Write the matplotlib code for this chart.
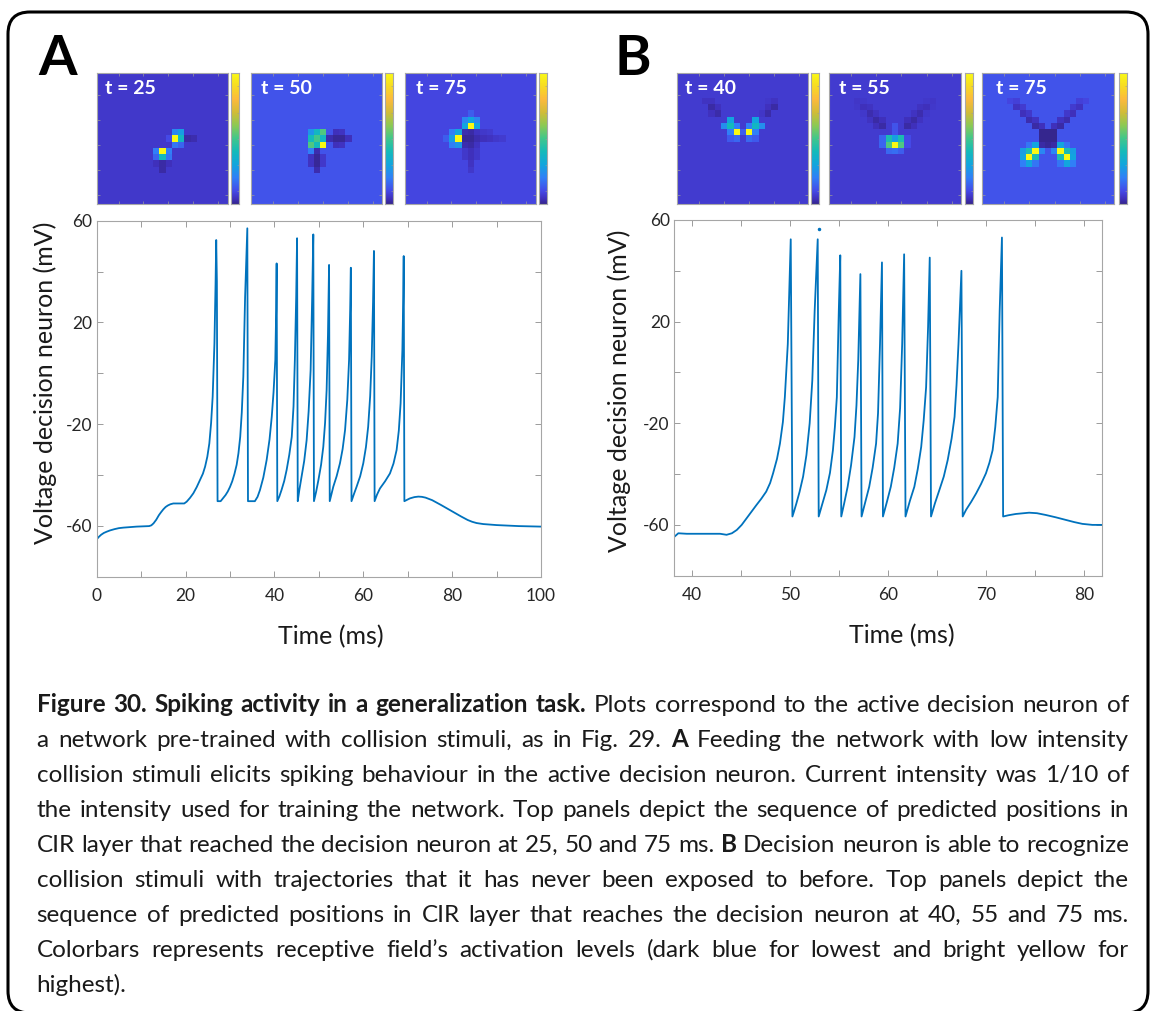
import matplotlib
matplotlib.use('Agg')
import matplotlib.pyplot as plt
import numpy as np
from matplotlib.colors import LinearSegmentedColormap
from matplotlib.patches import FancyBboxPatch
from matplotlib.transforms import IdentityTransform

plt.rcParams['font.family'] = ['Lato', 'DejaVu Sans']
plt.rcParams['axes.unicode_minus'] = False

# ---- data: voltage traces (ms, mV) ----
time_a = [0, 0.5, 1, 1.6, 2.25, 3, 4, 5, 6, 7.5, 9, 11.8, 12.3, 12.8, 13.4, 14, 14.5, 15, 15.5, 16, 16.6,
          17.25, 19.7, 20.25, 21, 21.75, 22.5, 23.25, 23.9, 24.4, 24.9, 25.35, 25.75, 26.1, 26.5, 26.75,
          26.9, 27.05, 27.2,
          27.9, 28.5, 29.0, 29.5, 30.0, 30.5, 31.0, 31.5, 31.9, 32.3, 32.65, 33.0, 33.4, 33.9, 34.05,
          35.6, 36.2, 36.75, 37.5, 38.25, 38.9, 39.4, 39.8, 40.2, 40.4, 40.5, 40.65,
          41.1, 41.6, 42.2, 42.75, 43.35, 43.9, 44.3, 44.6, 44.9, 45.1, 45.25,
          45.6, 46.1, 46.7, 47.25, 47.7, 48.15, 48.5, 48.75, 48.9,
          49.4, 49.9, 50.5, 51.0, 51.4, 51.75, 52.05, 52.3, 52.45,
          52.85, 53.25, 54.0, 54.75, 55.35, 55.9, 56.4, 56.8, 57.05, 57.2, 57.35,
          57.9, 58.5, 59.3, 60.0, 60.6, 61.1, 61.55, 61.9, 62.2, 62.4, 62.55,
          63.1, 63.75, 64.9, 66.0, 66.8, 67.5, 68.0, 68.4, 68.8, 69.0, 69.1, 69.25,
          69.8, 70.5, 71.5, 72.4, 73.2, 74.0, 75.5, 77.5, 79.5, 82.0, 83.5, 84.5, 85.5, 87.0, 90.0,
          95.0, 100.0]
volt_a = [-65.3, -64.3, -63.5, -62.8, -62.3, -61.8, -61.3, -60.9, -60.7, -60.5, -60.3, -60.1, -59.8, -59.0,
          -57.6, -55.8, -54.6, -53.5, -52.6, -52.0, -51.5,
          -51.2, -51.2, -50.5, -49.0, -47.2, -44.8, -42.0, -39.5, -36.7, -32.8, -27.6, -19.5, -9.2, 11.8, 35.0,
          52.4, 36.0, -50.3,
          -50.3, -49.0, -47.9, -46.5, -44.7, -42.5, -39.6, -36.0, -31.5, -25.0, -15.5, -1.3, 30.0, 57.0, -50.3,
          -50.3, -48.6, -45.9, -41.0, -34.1, -26.0, -17.1, -7.5, 5.2, 25.0, 43.2, -50.3,
          -48.5, -45.9, -42.4, -38.0, -32.0, -25.0, -13.0, 5.2, 30.0, 53.1, -50.3,
          -46.0, -40.7, -34.5, -26.3, -15.0, 1.3, 30.0, 54.6, -50.3,
          -46.5, -42.0, -36.0, -28.9, -19.5, -6.6, 15.0, 42.6, -50.3,
          -47.5, -44.6, -40.5, -35.4, -29.8, -22.3, -10.5, 5.2, 25.0, 41.5, -50.3,
          -47.5, -44.6, -40.5, -35.4, -29.0, -21.0, -9.0, 6.5, 28.0, 48.1, -50.3,
          -47.7, -45.3, -42.5, -39.4, -35.5, -30.2, -22.5, -11.8, 9.1, 30.0, 46.1, -50.3,
          -49.8, -49.2, -48.7, -48.5, -48.6, -48.9, -49.9, -51.8, -53.8, -56.3, -57.7, -58.4, -58.9, -59.3, -59.7,
          -60.1, -60.3]

time_b = [38.2, 38.64, 39.5, 42.9, 43.56, 44.1, 44.6, 45.1, 45.6, 46.1, 46.6, 47.1, 47.6, 48.0, 48.3, 48.7,
          49.0, 49.3, 49.5, 49.8, 50.1, 50.27,
          50.45, 50.68, 51.0, 51.36, 51.7, 52.03, 52.3, 52.54, 52.85, 52.95,
          53.3, 53.73, 54.1, 54.4, 54.6, 54.8, 55.0, 55.15, 55.25,
          55.55, 55.9, 56.25, 56.6, 56.8, 56.98, 57.2, 57.32,
          57.7, 58.1, 58.45, 58.8, 59.0, 59.2, 59.4, 59.5,
          59.9, 60.3, 60.65, 61.0, 61.25, 61.46, 61.66, 61.8,
          62.25, 62.7, 63.05, 63.4, 63.65, 63.9, 64.1, 64.27, 64.4,
          64.8, 65.25, 65.7, 66.1, 66.5, 66.8, 67.0, 67.2, 67.5, 67.63,
          67.97, 68.5, 69.0, 69.5, 70.0, 70.35, 70.68, 70.95, 71.2, 71.4, 71.63, 71.75,
          72.3, 73.05, 74.4, 75.2, 76.1, 77.1, 78.1, 79.0, 79.83, 80.85, 81.8]
volt_b = [-64.8, -63.3, -63.5, -63.5, -63.9, -63.3, -62.0, -60.0, -57.4, -54.8, -52.2, -49.7, -46.9, -43.5,
          -39.7, -34.0, -28.0, -19.5, -9.7, 11.2, 52.4, -56.7,
          -54.5, -51.5, -47.0, -41.0, -32.5, -20.0, -3.0, 24.3, 52.4, -56.7,
          -52.0, -46.3, -39.5, -30.6, -21.5, -9.7, 24.3, 46.1, -56.7,
          -51.5, -45.0, -36.5, -25.4, -13.0, 4.7, 38.7, -56.7,
          -51.0, -45.0, -37.5, -28.0, -16.0, 11.2, 43.3, -56.7,
          -51.0, -45.0, -37.5, -28.0, -14.0, 11.2, 46.5, -56.7,
          -50.5, -45.0, -38.0, -29.3, -19.0, -5.8, 17.8, 45.2, -56.7,
          -51.5, -46.3, -41.0, -34.5, -26.0, -17.5, -5.0, 11.2, 40.0, -56.7,
          -54.1, -50.9, -47.6, -43.9, -39.7, -35.6, -30.6, -21.5, -9.7, 24.3, 53.1, -56.7,
          -56.2, -55.7, -55.2, -55.4, -56.1, -57.0, -58.0, -58.9, -59.6, -60.0, -60.0]
stray_b = (52.95, 56.3)

# ---- data: receptive field snapshots, 21x21 grid, (row, col, level) ----
grid_n = 21
titles_a = ['t = 25', 't = 50', 't = 75']
titles_b = ['t = 40', 't = 55', 't = 75']
bg_a = [0.06, 0.12, 0.09]
bg_b = [0.07, 0.07, 0.12]

cells_a1 = [(9, 12, 0.22), (9, 13, 0.28),
            (10, 11, 0.10), (10, 12, 1.0), (10, 13, 0.38), (10, 14, 0.02), (10, 15, 0.03),
            (11, 12, 0.18), (11, 13, 0.15),
            (12, 9, 0.20), (12, 10, 1.0), (12, 11, 0.20),
            (13, 9, 0.15), (13, 10, 0.40), (13, 11, 0.18),
            (14, 9, 0.04), (14, 10, 0.02), (14, 11, 0.04),
            (15, 10, 0.02)]
cells_a2 = [(9, 9, 0.25), (9, 10, 0.38), (9, 11, 0.52), (9, 13, 0.04), (9, 14, 0.05),
            (10, 9, 0.40), (10, 10, 0.50), (10, 11, 0.38), (10, 12, 0.03), (10, 13, 0.01), (10, 14, 0.01), (10, 15, 0.04),
            (11, 9, 0.52), (11, 10, 0.40), (11, 11, 1.0), (11, 13, 0.04), (11, 14, 0.05),
            (12, 9, 0.20), (12, 10, 0.03),
            (13, 9, 0.05), (13, 10, 0.01), (13, 11, 0.06),
            (14, 9, 0.05), (14, 10, 0.01), (14, 11, 0.06),
            (15, 10, 0.03)]
cells_a3 = [(6, 10, 0.14),
            (7, 9, 0.22), (7, 10, 0.30), (7, 11, 0.22),
            (8, 9, 0.30), (8, 10, 1.0), (8, 11, 0.30),
            (9, 7, 0.20), (9, 8, 0.30), (9, 9, 0.03), (9, 10, 0.02), (9, 11, 0.05), (9, 12, 0.06), (9, 13, 0.07),
            (10, 6, 0.14), (10, 7, 0.28), (10, 8, 1.0), (10, 9, 0.01), (10, 10, 0.01), (10, 11, 0.03),
            (10, 12, 0.04), (10, 13, 0.05), (10, 14, 0.06), (10, 15, 0.07),
            (11, 7, 0.20), (11, 8, 0.26), (11, 9, 0.03), (11, 10, 0.02), (11, 11, 0.05),
            (12, 9, 0.06), (12, 10, 0.04), (12, 11, 0.06),
            (13, 9, 0.06), (13, 10, 0.04), (13, 11, 0.06),
            (14, 10, 0.05), (15, 10, 0.06)]
cells_b1 = [(4, 4, 0.05), (4, 5, 0.05), (5, 5, 0.02), (5, 6, 0.045), (6, 5, 0.045), (6, 6, 0.025),
            (4, 15, 0.05), (4, 14, 0.06), (5, 15, 0.02), (5, 14, 0.045), (6, 14, 0.025), (6, 13, 0.055),
            (7, 8, 0.30), (7, 12, 0.30),
            (8, 7, 0.24), (8, 8, 0.40), (8, 9, 0.20), (8, 11, 0.20), (8, 12, 0.38), (8, 13, 0.24),
            (9, 8, 0.20), (9, 9, 1.0), (9, 10, 0.14), (9, 11, 1.0), (9, 12, 0.20),
            (10, 8, 0.13), (10, 9, 0.16), (10, 11, 0.16), (10, 12, 0.13)]
cells_b2 = [(4, 4, 0.055), (4, 5, 0.06), (5, 4, 0.06), (5, 5, 0.04), (5, 6, 0.05), (6, 5, 0.06), (6, 6, 0.03),
            (6, 7, 0.05), (7, 6, 0.05), (7, 7, 0.02), (7, 8, 0.04), (8, 7, 0.04), (8, 8, 0.02),
            (4, 16, 0.055), (4, 15, 0.06), (5, 16, 0.06), (5, 15, 0.04), (5, 14, 0.05), (6, 15, 0.06), (6, 14, 0.03),
            (6, 13, 0.05), (7, 14, 0.05), (7, 13, 0.02), (7, 12, 0.04), (8, 13, 0.04), (8, 12, 0.02),
            (8, 10, 0.12), (9, 10, 0.12),
            (10, 8, 0.15), (10, 9, 0.42), (10, 10, 0.28), (10, 11, 0.42), (10, 12, 0.10),
            (11, 8, 0.15), (11, 9, 0.52), (11, 10, 1.0), (11, 11, 0.52), (11, 12, 0.10),
            (12, 9, 0.16), (12, 10, 0.17), (12, 11, 0.14)]
cells_b3 = [(4, 4, 0.09), (4, 5, 0.08), (5, 5, 0.05), (5, 6, 0.07), (6, 6, 0.04), (6, 7, 0.06),
            (7, 7, 0.03), (7, 8, 0.05), (8, 8, 0.02), (8, 9, 0.04),
            (4, 16, 0.09), (4, 15, 0.08), (5, 15, 0.05), (5, 14, 0.07), (6, 14, 0.04), (6, 13, 0.06),
            (7, 13, 0.03), (7, 12, 0.05), (8, 12, 0.02), (8, 11, 0.04),
            (9, 9, 0.0), (9, 10, 0.0), (9, 11, 0.0), (10, 9, 0.0), (10, 10, 0.0), (10, 11, 0.0),
            (11, 9, 0.02), (11, 10, 0.01), (11, 11, 0.02),
            (11, 8, 0.30), (11, 7, 0.18), (12, 6, 0.28), (12, 7, 0.42), (12, 8, 1.0), (12, 9, 0.22),
            (13, 6, 0.30), (13, 7, 1.0), (13, 8, 0.42), (14, 6, 0.20), (14, 7, 0.30), (14, 8, 0.18),
            (11, 12, 0.30), (11, 13, 0.18), (12, 14, 0.28), (12, 13, 0.42), (12, 12, 1.0), (12, 11, 0.22),
            (13, 14, 0.30), (13, 13, 1.0), (13, 12, 0.42), (14, 14, 0.20), (14, 13, 0.30), (14, 12, 0.18)]

caption_lines = [
    "*Figure *30. *Spiking *activity *in *a *generalization *task. Plots correspond to the active decision neuron of",
    "a network pre-trained with collision stimuli, as in Fig. 29. *A Feeding the network with low intensity",
    "collision stimuli elicits spiking behaviour in the active decision neuron. Current intensity was 1/10 of",
    "the intensity used for training the network. Top panels depict the sequence of predicted positions in",
    "CIR layer that reached the decision neuron at 25, 50 and 75 ms. *B Decision neuron is able to recognize",
    "collision stimuli with trajectories that it has never been exposed to before. Top panels depict the",
    "sequence of predicted positions in CIR layer that reaches the decision neuron at 40, 55 and 75 ms.",
    "Colorbars represents receptive field\u2019s activation levels (dark blue for lowest and bright yellow for",
    "highest).",
]

# parula-like colormap
parula = LinearSegmentedColormap.from_list('parula', [
    (0.00, (0.21, 0.15, 0.56)), (0.04, (0.25, 0.19, 0.74)), (0.10, (0.27, 0.29, 0.91)),
    (0.20, (0.19, 0.50, 0.97)), (0.30, (0.07, 0.65, 0.87)), (0.40, (0.08, 0.73, 0.73)),
    (0.50, (0.25, 0.78, 0.55)), (0.60, (0.55, 0.79, 0.33)), (0.70, (0.82, 0.74, 0.22)),
    (0.80, (0.99, 0.73, 0.24)), (0.90, (0.97, 0.86, 0.14)), (1.00, (0.98, 0.98, 0.08))])

W, H = 1151, 1011
fig = plt.figure(figsize=(W / 100, H / 100), dpi=100)
fig.patch.set_facecolor('white')


def px_axes(left, top, right, bottom):
    return fig.add_axes([left / W, 1 - bottom / H, (right - left) / W, (bottom - top) / H])


def heatmap(box, cbox, bg, cells, title, tx):
    ax = px_axes(*box)
    img = np.full((grid_n, grid_n), bg)
    for r, c, v in cells:
        img[r, c] = v
    ax.imshow(img, cmap=parula, vmin=0, vmax=1, extent=(0.5, grid_n + 0.5, grid_n + 0.5, 0.5),
              aspect='auto', interpolation='nearest')
    ax.set_xticks([4, 8, 12, 16, 20])
    ax.set_yticks([4, 8, 12, 16, 20])
    ax.tick_params(direction='in', length=2, width=0.5, color='#9a9a9a', top=True, right=True,
                   labelbottom=False, labelleft=False)
    for s in ax.spines.values():
        s.set_color('#a8a8a8')
        s.set_linewidth(0.8)
    ax.text(tx, 0.95, title, transform=ax.transAxes, color='white', fontweight='bold',
            fontsize=14, ha='left', va='top')
    cax = px_axes(*cbox)
    cax.imshow(np.linspace(0, 1, 256).reshape(-1, 1), cmap=parula, origin='lower', aspect='auto',
               extent=(0, 1, 0, 1))
    cax.set_xticks([])
    cax.set_yticks([0.1, 0.3, 0.5, 0.7, 0.9])
    cax.tick_params(direction='in', length=1.5, width=0.4, color='#9a9a9a', left=False, right=True,
                    labelleft=False)
    for s in cax.spines.values():
        s.set_color('#a8a8a8')
        s.set_linewidth(0.8)


img_boxes_a = [(96.7, 73.3, 227.7, 204.3), (250.7, 73.3, 382, 204.3), (404.7, 73.3, 535.7, 204.3)]
cb_boxes_a = [(231.3, 73.3, 239, 204.3), (385.3, 73.3, 392.7, 204.3), (539, 73.3, 546.7, 204.3)]
img_boxes_b = [(676.7, 73.3, 808.3, 204.3), (829.3, 73.3, 961, 204.3), (982.3, 73.3, 1114.3, 204.3)]
cb_boxes_b = [(811.3, 73.3, 819, 204.3), (965.3, 73.3, 972.7, 204.3), (1119, 73.3, 1126.7, 204.3)]
tx_a = [0.06, 0.075, 0.09]
tx_b = [0.06, 0.075, 0.10]

for box, cbox, bg, cells, title, tx in zip(img_boxes_a, cb_boxes_a, bg_a, [cells_a1, cells_a2, cells_a3], titles_a, tx_a):
    heatmap(box, cbox, bg, cells, title, tx)
for box, cbox, bg, cells, title, tx in zip(img_boxes_b, cb_boxes_b, bg_b, [cells_b1, cells_b2, cells_b3], titles_b, tx_b):
    heatmap(box, cbox, bg, cells, title, tx)


def style_trace(ax):
    ax.tick_params(which='both', direction='in', length=4, width=0.6, color='#8c8c8c',
                   top=True, right=True, labelsize=12.5, labelcolor='#262626')
    ax.tick_params(axis='x', pad=8)
    ax.tick_params(axis='y', pad=3)
    ax.set_ylim(-80, 60)
    ax.set_yticks([-60, -20, 20, 60])
    ax.set_yticks([-80, -40, 0, 40], minor=True)
    for s in ax.spines.values():
        s.set_color('#a6a6a6')
        s.set_linewidth(0.8)


blue = '#0072BD'

# ---- panel A ----
ax_a = px_axes(96.7, 220.7, 541, 576.7)
ax_a.plot(time_a, volt_a, color=blue, lw=1.3)
ax_a.set_xlim(0, 100)
ax_a.set_xticks([0, 20, 40, 60, 80, 100])
ax_a.set_xticks([10, 30, 50, 70, 90], minor=True)
style_trace(ax_a)
ax_a.set_xlabel('Time (ms)', fontsize=18, color='#1a1a1a')
ax_a.xaxis.set_label_coords(0.528, -0.135)
ax_a.set_ylabel('Voltage decision neuron (mV)', fontsize=18, color='#1a1a1a')
ax_a.yaxis.set_label_coords(-0.09, 0.5455)

# ---- panel B ----
ax_b = px_axes(674, 220, 1101.7, 575.7)
ax_b.plot(time_b, volt_b, color=blue, lw=1.3)
ax_b.plot([stray_b[0]], [stray_b[1]], 'o', color=blue, ms=1.5)
ax_b.set_xlim(38.2, 81.8)
ax_b.set_xticks([40, 50, 60, 70, 80])
ax_b.set_xticks([45, 55, 65, 75], minor=True)
style_trace(ax_b)
ax_b.set_xlabel('Time (ms)', fontsize=18, color='#1a1a1a')
ax_b.xaxis.set_label_coords(0.532, -0.135)
ax_b.set_ylabel('Voltage decision neuron (mV)', fontsize=18, color='#1a1a1a')
ax_b.yaxis.set_label_coords(-0.1, 0.5207)

# panel letters
fig.text(38 / W, 1 - 75 / H, 'A', fontsize=40, fontweight='bold', va='baseline', ha='left')
fig.text(614 / W, 1 - 75 / H, 'B', fontsize=40, fontweight='bold', va='baseline', ha='left')

# ---- caption, justified ----
renderer = fig.canvas.get_renderer()
cap_size = 15.0
x_left, x_right = 36.7, 1128.8
base0, pitch = 711.7, 35.0
lines = []
for i, line in enumerate(caption_lines):
    objs = []
    for w in line.split(' '):
        bold = w.startswith('*')
        objs.append(fig.text(0, 1 - (base0 + i * pitch) / H, w.lstrip('*'), fontsize=cap_size,
                             fontweight='bold' if bold else 'normal', va='baseline', ha='left',
                             color='#1a1a1a'))
    lines.append(objs)

# scale the caption font so the widest line fits with normal word spacing
space = 0.26 * cap_size * 100 / 72
natural = max(sum(o.get_window_extent(renderer).width for o in objs) + space * (len(objs) - 1)
              for objs in lines[:-1])
cap_size = cap_size * (x_right - x_left) / natural
for objs in lines:
    for o in objs:
        o.set_fontsize(cap_size)

for i, objs in enumerate(lines):
    widths = [o.get_window_extent(renderer).width for o in objs]
    if i < len(lines) - 1 and len(objs) > 1:
        gap = (x_right - x_left - sum(widths)) / (len(objs) - 1)
    else:
        gap = 0.26 * cap_size * 100 / 72
    x = x_left
    for o, wd in zip(objs, widths):
        o.set_x(x / W)
        x += wd + gap

# rounded frame around the whole figure
frame = FancyBboxPatch((8, H - 1013), 1140, 1001, boxstyle='round,pad=0,rounding_size=22',
                       transform=IdentityTransform(), fill=False, lw=2.2, ec='black')
fig.add_artist(frame)

fig.savefig('out.png', dpi=100)
